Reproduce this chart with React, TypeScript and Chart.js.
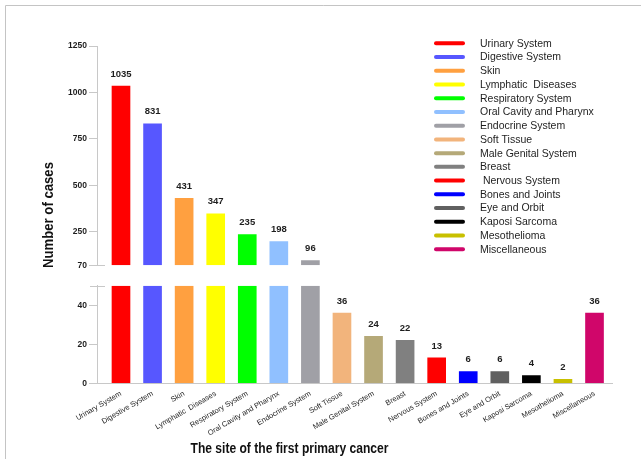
import React, { useEffect, useRef } from "react";
import { Chart, registerables } from "chart.js";

Chart.register(...registerables);

// Sites of the first primary cancer and their case counts
const categories = [
  "Urinary System",
  "Digestive System",
  "Skin",
  "Lymphatic  Diseases",
  "Respiratory System",
  "Oral Cavity and Pharynx",
  "Endocrine System",
  "Soft Tissue",
  "Male Genital System",
  "Breast",
  "Nervous System",
  "Bones and Joints",
  "Eye and Orbit",
  "Kaposi Sarcoma",
  "Mesothelioma",
  "Miscellaneous",
];
const legendLabels = [
  "Urinary System",
  "Digestive System",
  "Skin",
  "Lymphatic  Diseases",
  "Respiratory System",
  "Oral Cavity and Pharynx",
  "Endocrine System",
  "Soft Tissue",
  "Male Genital System",
  "Breast",
  " Nervous System",
  "Bones and Joints",
  "Eye and Orbit",
  "Kaposi Sarcoma",
  "Mesothelioma",
  "Miscellaneous",
];
const cases = [1035, 831, 431, 347, 235, 198, 96, 36, 24, 22, 13, 6, 6, 4, 2, 36];
const barColors = [
  "#ff0000",
  "#5757ff",
  "#ffa040",
  "#ffff00",
  "#00ff00",
  "#90c0ff",
  "#a0a0a6",
  "#f2b47c",
  "#b5a978",
  "#808080",
  "#ff0000",
  "#0000ff",
  "#606060",
  "#000000",
  "#c8c000",
  "#d0066a",
];
// Broken value axis: upper segment and lower segment
const upperRange = [70, 1250];
const lowerRange = [0, 50];
const upperTicks = [70, 250, 500, 750, 1000, 1250];
const lowerTicks = [0, 20, 40];

const FONT = "'Liberation Sans', Arial, sans-serif";
const AXIS_GRAY = "#c8c8c8";
const TEXT = "#1e1e1e";

// Draws text condensed horizontally so that it spans the given width
function condensedText(ctx: CanvasRenderingContext2D, text: string, width: number) {
  const natural = ctx.measureText(text).width;
  const k = Math.min(1, width / natural);
  ctx.save();
  ctx.scale(k, 1);
  ctx.fillText(text, 0, 0);
  ctx.restore();
}

const decorations = {
  id: "decorations",
  beforeDraw(chart: any) {
    const ctx = chart.ctx;
    ctx.save();
    ctx.strokeStyle = "#c4c4c4";
    ctx.lineWidth = 1;
    ctx.beginPath();
    ctx.moveTo(5.5, 459);
    ctx.lineTo(5.5, 5.5);
    ctx.lineTo(641, 5.5);
    ctx.stroke();
    ctx.restore();
  },
  beforeDatasetDraw(chart: any, args: any) {
    const ys = args.meta.yScale;
    const area = chart.chartArea;
    const ctx = chart.ctx;
    ctx.save();
    ctx.beginPath();
    ctx.rect(area.left, ys.top, area.right - area.left, ys.bottom - ys.top);
    ctx.clip();
  },
  afterDatasetDraw(chart: any) {
    chart.ctx.restore();
  },
  afterDraw(chart: any) {
    const ctx = chart.ctx;
    const up = chart.scales.yUpper;
    const low = chart.scales.yLower;
    const axisX = chart.chartArea.left;

    // axis break marks
    ctx.save();
    ctx.strokeStyle = AXIS_GRAY;
    ctx.lineWidth = 1;
    ctx.beginPath();
    const yb1 = Math.round(up.bottom) + 0.5;
    const yb2 = Math.round(low.top) + 0.5;
    ctx.moveTo(axisX - 7, yb1);
    ctx.lineTo(axisX + 8, yb1);
    ctx.moveTo(axisX - 7, yb2);
    ctx.lineTo(axisX + 8, yb2);
    ctx.stroke();
    ctx.restore();

    // value labels above bars
    const upMeta = chart.getDatasetMeta(0);
    const lowMeta = chart.getDatasetMeta(1);
    ctx.save();
    ctx.fillStyle = TEXT;
    ctx.font = `bold 9.5px ${FONT}`;
    ctx.textAlign = "center";
    ctx.textBaseline = "middle";
    cases.forEach((v, i) => {
      const el = v > upperRange[0] ? upMeta.data[i] : lowMeta.data[i];
      if (!el) return;
      ctx.fillText(String(v), el.x, el.y - 12);
    });
    ctx.restore();

    // legend
    ctx.save();
    ctx.font = `10.5px ${FONT}`;
    ctx.textBaseline = "middle";
    ctx.textAlign = "left";
    ctx.lineCap = "round";
    ctx.lineWidth = 4;
    legendLabels.forEach((name, i) => {
      const y = 43.3 + i * 13.73;
      ctx.strokeStyle = barColors[i];
      ctx.beginPath();
      ctx.moveTo(436, y);
      ctx.lineTo(463, y);
      ctx.stroke();
      ctx.fillStyle = TEXT;
      ctx.fillText(name, 480, y + 0.5);
    });
    ctx.restore();

    // axis titles
    ctx.save();
    ctx.fillStyle = "#111";
    ctx.font = `bold 15.5px ${FONT}`;
    ctx.textAlign = "center";
    ctx.textBaseline = "middle";
    ctx.translate(289.5, 449);
    condensedText(ctx, "The site of the first primary cancer", 198);
    ctx.restore();

    ctx.save();
    ctx.fillStyle = "#111";
    ctx.font = `bold 15px ${FONT}`;
    ctx.textAlign = "center";
    ctx.textBaseline = "middle";
    ctx.translate(49, 215);
    ctx.rotate(-Math.PI / 2);
    condensedText(ctx, "Number of cases", 106);
    ctx.restore();
  },
};

const yTickFont = { family: FONT, size: 8.5, weight: "bold" as const };

export default function App() {
  const canvasRef = useRef<HTMLCanvasElement | null>(null);

  useEffect(() => {
    const canvas = canvasRef.current;
    if (!canvas) return;
    const chart = new Chart(canvas, {
      type: "bar",
      data: {
        datasets: [
          {
            label: "upper",
            yAxisID: "yUpper",
            data: cases.map((v, i) => ({ x: i, y: v > upperRange[0] ? v : null })) as any,
            backgroundColor: barColors,
            barThickness: 18,
            grouped: false,
          },
          {
            label: "lower",
            yAxisID: "yLower",
            data: cases.map((v, i) => ({ x: i, y: v })) as any,
            backgroundColor: barColors,
            barThickness: 18,
            grouped: false,
          },
        ],
      },
      options: {
        responsive: false,
        animation: false,
        devicePixelRatio: 1,
        layout: { padding: { top: 46, right: 29, bottom: 0, left: 0 } },
        plugins: { legend: { display: false }, tooltip: { enabled: false } },
        scales: {
          x: {
            type: "linear",
            offset: false,
            min: -0.76,
            max: 15.554,
            afterBuildTicks: (s: any) => {
              s.ticks = categories.map((_, i) => ({ value: i }));
            },
            afterFit: (s: any) => {
              s.height = 75.7;
            },
            grid: { display: false, drawTicks: false },
            border: { display: true, color: AXIS_GRAY, width: 1 },
            ticks: {
              autoSkip: false,
              minRotation: 30,
              maxRotation: 30,
              padding: 6,
              color: TEXT,
              font: { family: FONT, size: 7.5 },
              callback: (v: any) => categories[v as number] ?? "",
            },
          },
          yUpper: {
            type: "linear",
            position: "left",
            stack: "cases",
            stackWeight: 219.3,
            weight: 3,
            min: upperRange[0],
            max: upperRange[1],
            afterBuildTicks: (s: any) => {
              s.ticks = upperTicks.map((value) => ({ value }));
            },
            afterFit: (s: any) => {
              s.width = 97;
            },
            grid: { drawOnChartArea: false, tickLength: 8, color: AXIS_GRAY },
            border: { color: AXIS_GRAY, width: 1 },
            ticks: { padding: 2, color: TEXT, font: yTickFont, callback: (v: any) => String(v) },
          },
          yGap: {
            type: "linear",
            position: "left",
            stack: "cases",
            stackWeight: 20.4,
            weight: 2,
            afterFit: (s: any) => {
              s.width = 97;
            },
            grid: { display: false },
            border: { display: false },
            ticks: { display: false },
          },
          yLower: {
            type: "linear",
            position: "left",
            stack: "cases",
            stackWeight: 97.6,
            weight: 1,
            min: lowerRange[0],
            max: lowerRange[1],
            afterBuildTicks: (s: any) => {
              s.ticks = lowerTicks.map((value) => ({ value }));
            },
            afterFit: (s: any) => {
              s.width = 97;
            },
            grid: { drawOnChartArea: false, tickLength: 8, color: AXIS_GRAY },
            border: { color: AXIS_GRAY, width: 1 },
            ticks: { padding: 2, color: TEXT, font: yTickFont, callback: (v: any) => String(v) },
          },
        } as any,
      },
      plugins: [decorations],
    });
    return () => chart.destroy();
  }, []);

  return (
    <div style={{ position: "fixed", left: 0, top: 0, width: 641, height: 459, background: "#fff" }}>
      <canvas ref={canvasRef} width={641} height={459} />
    </div>
  );
}
